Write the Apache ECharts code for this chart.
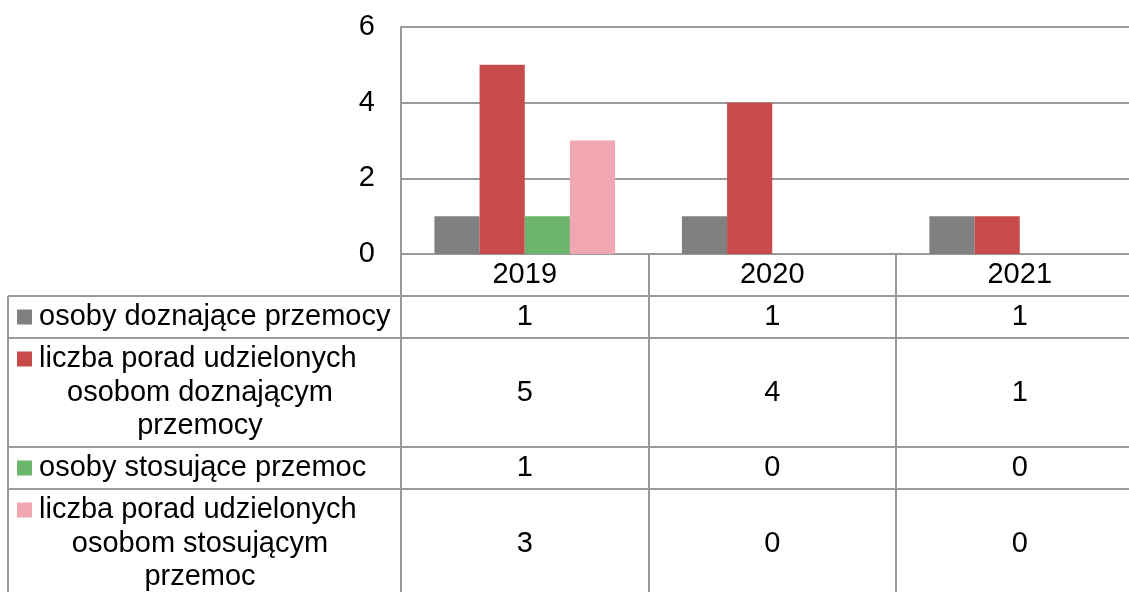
<!DOCTYPE html>
<html>
<head>
<meta charset="utf-8">
<script src="https://cdn.jsdelivr.net/npm/echarts@6/dist/echarts.min.js"></script>
<style>
  html, body { margin: 0; padding: 0; background: #fff; overflow: hidden; }
  #chart { width: 1160px; height: 592px; }
</style>
</head>
<body>
<div id="chart"></div>
<script>
// data
const years = ["2019", "2020", "2021"];
const seriesNames = [
  "osoby doznające przemocy",
  "liczba porad udzielonych\nosobom doznającym\nprzemocy",
  "osoby stosujące przemoc",
  "liczba porad udzielonych\nosobom stosującym\nprzemoc",
];
const doznajace = [1, 1, 1];
const poradyDoznajacym = [5, 4, 1];
const stosujace = [1, 0, 0];
const poradyStosujacym = [3, 0, 0];
const yTicks = [0, 2, 4, 6];

const values = [doznajace, poradyDoznajacym, stosujace, poradyStosujacym];
const colors = ["#808080", "#c84b4b", "#6bb56c", "#f0a7b2"];

const font = "'Liberation Sans', Arial, sans-serif";
const fontSize = 29;
const lineColor = "#999";

// table layout (px below the x axis)
const headH = 42;
const lineH = 33.5;
const padV = 8.5;
const rowTop = [];
let acc = headH;
seriesNames.forEach((n) => {
  rowTop.push(acc);
  acc += padV + n.split("\n").length * lineH;
});
const rowBottom = rowTop.map((t, i) => (i + 1 < rowTop.length ? rowTop[i + 1] : acc));

function renderRow(params, api) {
  const i = api.value(1);
  const band = api.size([1, 0])[0];
  const x0 = api.coord([0, 0])[0] - band / 2;
  const xEnd = x0 + band * years.length;
  const top = api.coord([0, rowTop[i]])[1];
  const bottom = api.coord([0, rowBottom[i]])[1];
  const lines = seriesNames[i].split("\n");
  const firstY = top + padV / 2 + lineH / 2;
  const children = [];
  // row top border
  children.push({
    type: "line",
    shape: { x1: x0 - 393, y1: top, x2: xEnd, y2: top },
    style: { stroke: lineColor, lineWidth: 2 },
  });
  // left border
  children.push({
    type: "line",
    shape: { x1: x0 - 393, y1: top, x2: x0 - 393, y2: bottom },
    style: { stroke: lineColor, lineWidth: 2 },
  });
  // legend key
  children.push({
    type: "rect",
    shape: { x: x0 - 384, y: firstY - 7.5, width: 15, height: 15 },
    style: { fill: colors[i] },
  });
  lines.forEach((ln, k) => {
    children.push({
      type: "text",
      style: {
        text: ln,
        x: k === 0 ? x0 - 362 : x0 - 201,
        y: firstY + k * lineH,
        align: k === 0 ? "left" : "center",
        verticalAlign: "middle",
        font: fontSize + "px " + font,
        fill: "#000",
      },
    });
  });
  // values
  values[i].forEach((v, j) => {
    children.push({
      type: "text",
      style: {
        text: String(v),
        x: api.coord([j, 0])[0],
        y: (top + bottom) / 2,
        align: "center",
        verticalAlign: "middle",
        font: fontSize + "px " + font,
        fill: "#000",
      },
    });
  });
  return { type: "group", children: children };
}

const chart = echarts.init(document.getElementById("chart"));
const option = {
  animation: false,
  textStyle: { fontFamily: font },
  grid: [
    { left: 401, top: 27, width: 742.5, height: 227 },
    { left: 401, top: 254, width: 742.5, height: 338 },
  ],
  xAxis: [
    {
      type: "category",
      gridIndex: 0,
      data: years,
      axisLine: { lineStyle: { color: lineColor, width: 2 } },
      axisTick: { show: false },
      axisLabel: {
        color: "#000",
        fontSize: fontSize,
        fontFamily: font,
        margin: 21,
        verticalAlign: "middle",
      },
    },
    {
      type: "category",
      gridIndex: 1,
      data: years,
      axisLine: { show: false },
      axisTick: { show: false },
      axisLabel: { show: false },
      splitLine: { show: true, lineStyle: { color: lineColor, width: 2 } },
    },
  ],
  yAxis: [
    {
      type: "value",
      gridIndex: 0,
      min: yTicks[0],
      max: yTicks[yTicks.length - 1],
      interval: yTicks[1] - yTicks[0],
      axisLine: { show: true, lineStyle: { color: lineColor, width: 2 } },
      axisTick: { show: false },
      axisLabel: { color: "#000", fontSize: fontSize, fontFamily: font, margin: 26 },
      splitLine: { lineStyle: { color: lineColor, width: 2 } },
    },
    {
      type: "value",
      gridIndex: 1,
      min: 0,
      max: 338,
      inverse: true,
      axisLine: { show: true, lineStyle: { color: lineColor, width: 2 } },
      axisTick: { show: false },
      axisLabel: { show: false },
      splitLine: { show: false },
    },
  ],
  series: values
    .map((vals, i) => ({
      name: seriesNames[i],
      type: "bar",
      xAxisIndex: 0,
      yAxisIndex: 0,
      data: vals,
      barGap: "0%",
      barCategoryGap: "27%",
      itemStyle: { color: colors[i] },
    }))
    .concat([
      {
        type: "custom",
        xAxisIndex: 1,
        yAxisIndex: 1,
        clip: false,
        silent: true,
        data: seriesNames.map((n, i) => [0, i]),
        encode: { x: 0 },
        renderItem: renderRow,
      },
    ]),
};
chart.setOption(option);
</script>
</body>
</html>
